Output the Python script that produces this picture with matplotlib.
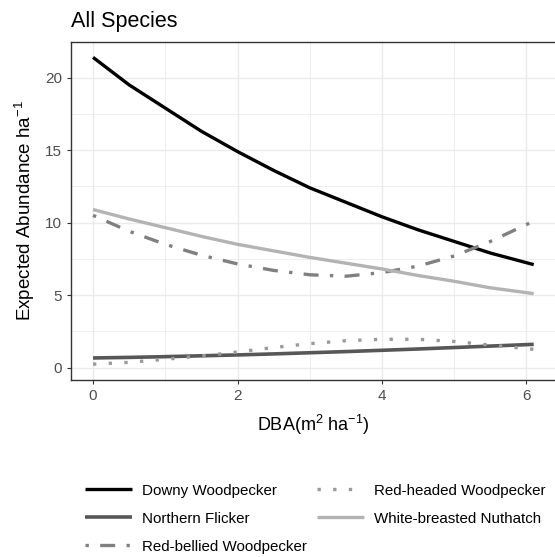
import matplotlib
matplotlib.use("Agg")
import matplotlib.pyplot as plt
from matplotlib.ticker import MultipleLocator

plt.rcParams['font.family'] = ['Liberation Sans', 'DejaVu Sans']
plt.rcParams['mathtext.fontset'] = 'custom'
plt.rcParams['mathtext.rm'] = 'Liberation Sans'
plt.rcParams['mathtext.default'] = 'regular'

# Data
dba = [0, 0.5, 1, 1.5, 2, 2.5, 3, 3.5, 4, 4.5, 5, 5.5, 6.1]
downy = [21.4, 19.5, 17.9, 16.3, 14.9, 13.6, 12.4, 11.4, 10.4, 9.5, 8.7, 7.9, 7.1]
flicker = [0.66, 0.7, 0.75, 0.81, 0.87, 0.94, 1.02, 1.1, 1.19, 1.28, 1.38, 1.48, 1.6]
redbellied = [10.5, 9.4, 8.5, 7.75, 7.15, 6.7, 6.4, 6.3, 6.55, 7.0, 7.7, 8.7, 10.1]
redheaded = [0.23, 0.36, 0.57, 0.8, 1.07, 1.38, 1.65, 1.85, 1.95, 1.95, 1.8, 1.55, 1.26]
nuthatch = [10.9, 10.25, 9.65, 9.05, 8.5, 8.05, 7.6, 7.2, 6.8, 6.35, 5.95, 5.5, 5.1]

labels = ["Downy Woodpecker", "Northern Flicker", "Red-bellied Woodpecker",
          "Red-headed Woodpecker", "White-breasted Nuthatch"]
series = [downy, flicker, redbellied, redheaded, nuthatch]
colors = ["#000000", "#575757", "#808080", "#9A9A9A", "#B3B3B3"]
styles = ["-", "-", (0, (1, 3.4, 4.5, 3.4)), (0, (1, 3.7)), "-"]
widths = [2.4, 2.6, 2.4, 2.4, 2.4]

fig = plt.figure(figsize=(5.55, 5.57), dpi=100)
ax = fig.add_axes([71/555, (557-380)/557, (555-71)/555 + 0.002, (380-42)/557])

handles = []
for s, lab, c, ls, lw in zip(series, labels, colors, styles, widths):
    h, = ax.plot(dba, s, color=c, linestyle=ls, linewidth=lw, label=lab,
                 solid_capstyle='butt', dash_capstyle='butt')
    handles.append(h)

ax.set_xlim(-0.305, 6.41)
ax.set_ylim(-0.86, 22.46)
ax.xaxis.set_major_locator(MultipleLocator(2))
ax.xaxis.set_minor_locator(MultipleLocator(1))
ax.yaxis.set_major_locator(MultipleLocator(5))
ax.yaxis.set_minor_locator(MultipleLocator(2.5))
ax.grid(which='major', color='#EBEBEB', linewidth=1.0)
ax.grid(which='minor', color='#EBEBEB', linewidth=0.6)
ax.set_axisbelow(True)
ax.tick_params(which='minor', length=0)
ax.tick_params(which='major', length=3, width=0.8, color='#333333',
               labelcolor='#4D4D4D', labelsize=11, pad=3.5)
for sp in ax.spines.values():
    sp.set_color('#333333')
    sp.set_linewidth(1.0)

ax.set_xlabel("DBA(m$^2$ ha$^{-1}$)", fontsize=13, color='black', labelpad=7)
ax.set_ylabel("Expected Abundance ha$^{-1}$", fontsize=13.5, color='black', labelpad=6)
fig.text(71/555, 1 - 27.5/557, "All Species", fontsize=15.5, ha='left', va='baseline')

fig.legend(handles, labels, ncol=2, loc='upper center',
           bbox_to_anchor=(315.5/555, 1 - 470/557), frameon=False,
           fontsize=10.9, handlelength=3.1, handletextpad=0.66,
           columnspacing=0.66, labelspacing=0.93)

fig.savefig("out.png", dpi=100)
